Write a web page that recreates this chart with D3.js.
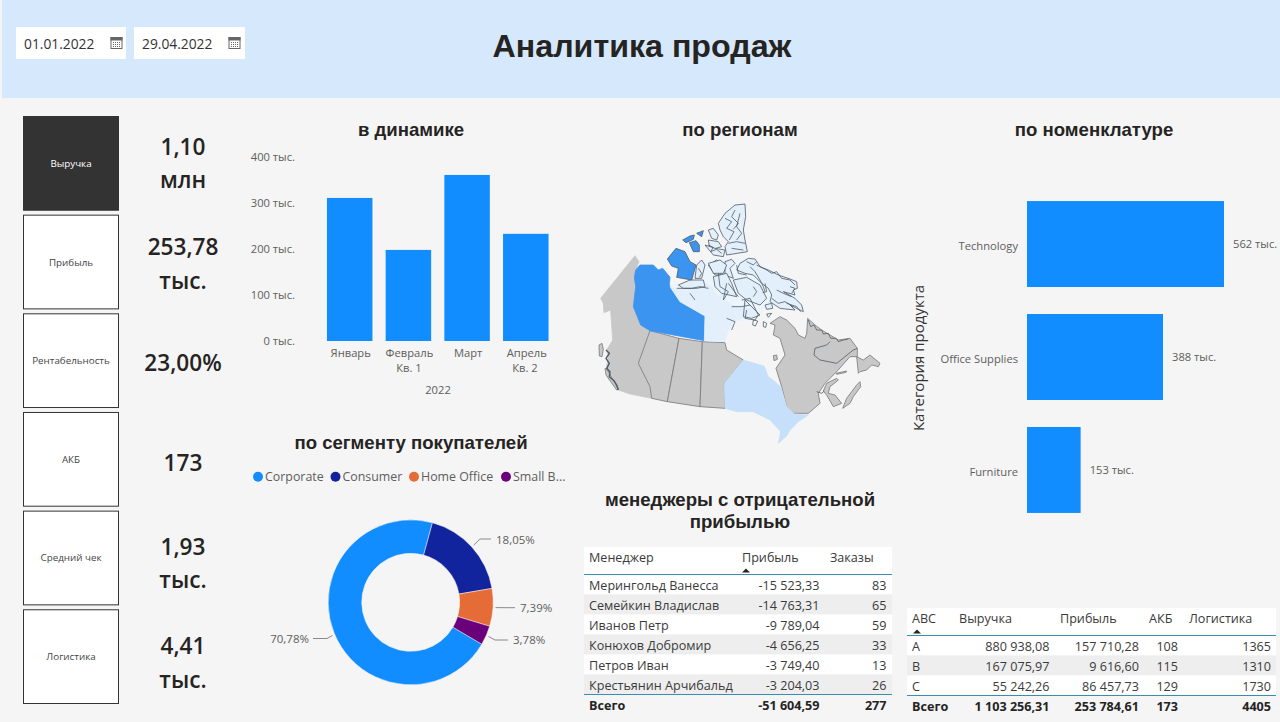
<!DOCTYPE html>
<html>
<head>
<meta charset="utf-8">
<script src="https://cdn.jsdelivr.net/npm/d3@7"></script>
<style>
html, body { margin: 0; padding: 0; background: #f5f5f5; overflow: hidden; }
text { font-family: "Open Sans", "Noto Sans", sans-serif; }
.title { font-family: "Liberation Sans", Arial, sans-serif; font-weight: bold; fill: #252423; font-size: 18.6px; text-anchor: middle; }
.axis text { font-size: 11.2px; fill: #605e5c; }
.axis .domain { display: none; }
.tbl { font-size: 12.6px; fill: #3a3a3a; }
</style>
</head>
<body>
<svg id="page" width="1280" height="722"></svg>
<script>
// ---- data
const dates = ['01.01.2022', '29.04.2022'];

const kpiNames = ['Выручка', 'Прибыль', 'Рентабельность', 'АКБ', 'Средний чек', 'Логистика'];
const kpiValues = [['1,10', 'млн'], ['253,78', 'тыс.'], ['23,00%'], ['173'], ['1,93', 'тыс.'], ['4,41', 'тыс.']];
const kpiNudge = [-1, 1, 1, 3, 4.5, 5.5];

const months = ['Январь', 'Февраль', 'Март', 'Апрель'];
const monthSales = [311, 198, 361, 233];
const salesTicks = [0, 100, 200, 300, 400];

const products = ['Technology', 'Office Supplies', 'Furniture'];
const productSales = [562, 388, 153];

const segmentLegend = ['Corporate', 'Consumer', 'Home Office', 'Small B...'];
const segmentShare = [70.78, 18.05, 7.39, 3.78];
const segmentLabels = ['70,78%', '18,05%', '7,39%', '3,78%'];
const segmentColors = ['#118DFF', '#12239E', '#E66C37', '#6B007B'];

const managerHead = ['Менеджер', 'Прибыль', 'Заказы'];
const managers = ['Мерингольд Ванесса', 'Семейкин Владислав', 'Иванов Петр', 'Конюхов Добромир', 'Петров Иван', 'Крестьянин Арчибальд'];
const managerProfit = ['-15 523,33', '-14 763,31', '-9 789,04', '-4 656,25', '-3 749,40', '-3 204,03'];
const managerOrders = ['83', '65', '59', '33', '13', '26'];
const managerTotal = ['Всего', '-51 604,59', '277'];

const abcHead = ['ABC', 'Выручка', 'Прибыль', 'АКБ', 'Логистика'];
const abcRows = [
  ['A', '880 938,08', '157 710,28', '108', '1365'],
  ['B', '167 075,97', '9 616,60', '115', '1310'],
  ['C', '55 242,26', '86 457,73', '129', '1730']
];
const abcTotal = ['Всего', '1 103 256,31', '253 784,61', '173', '4405'];

// map outlines, in the map's own 900x780 units
const yukon = [[32,325],[135,197],[147,215],[137,240],[133,262],[137,290],[130,350],[152,405],[62,360],[40,340]];
const nwt = [[137,240],[150,225],[190,225],[205,240],[218,235],[240,262],[238,285],[270,335],[345,378],[343,452],[180,422],[152,405],[130,350],[137,290],[133,262]];
const bc = [[40,340],[152,405],[180,422],[145,520],[180,590],[185,625],[120,612],[85,600],[75,575],[60,555],[50,530],[55,500],[50,480],[68,450],[62,360],[42,368]];
const alberta = [[180,422],[267,445],[232,635],[185,625],[180,590],[145,520]];
const sask = [[267,445],[337,455],[330,650],[232,635]];
const manitoba = [[337,455],[405,458],[410,480],[460,510],[403,580],[405,655],[330,650]];
const ontario = [[460,510],[522,528],[535,560],[555,575],[573,592],[590,650],[612,672],[655,675],[625,695],[600,720],[590,738],[565,760],[572,725],[540,690],[490,665],[440,665],[405,655],[403,580]];
const quebec = [[540,400],[570,380],[590,390],[615,415],[625,435],[645,445],[650,430],[653,385],[675,405],[695,420],[720,435],[745,450],[780,445],[802,475],[802,500],[780,500],[740,545],[705,580],[685,610],[690,640],[655,670],[605,670],[590,650],[575,590],[558,535],[585,495],[570,445],[550,435],[555,405]];
const newfoundland = [[805,550],[800,500],[820,510],[840,495],[870,520],[865,530],[845,525],[830,540],[810,545]];
const novaScotia = [[758,655],[770,625],[800,585],[810,575],[812,590],[790,620],[780,640]];
const brunswick = [[700,603],[710,580],[740,565],[745,570],[720,590],[715,610],[735,615],[755,640],[730,650],[710,615]];
const pei = [[738,550],[770,543],[768,547],[740,553]];
const vancouver = [[45,535],[52,540],[75,580],[85,598],[80,600],[62,575],[48,555]];
const haida = [[27,465],[36,460],[40,478],[36,500],[28,498]];
const akimiski = [[550,497],[560,495],[562,508],[552,512]];

const arcticWash = [[240,285],[320,270],[335,215],[380,205],[440,205],[490,205],[540,240],[620,275],[640,370],[600,350],[525,350],[510,375],[470,395],[430,395],[405,455],[343,452],[345,378],[270,335]];
const blueIslands = [
  [[232,207],[258,175],[285,185],[300,215],[318,225],[305,270],[260,262],[265,235],[245,228]],
  [[278,150],[300,138],[313,135],[310,148],[288,158]],
  [[298,158],[318,152],[328,165],[328,185],[310,185]],
  [[320,130],[340,122],[335,140]]
];
const nunavutMain = [[240,290],[262,298],[290,293],[315,297],[335,285],[350,280],[365,292],[385,320],[395,305],[415,340],[440,350],[455,345],[470,350],[460,385],[430,395],[412,430],[405,455],[343,452],[345,378],[270,335]];
const lightIslands = [
  [[385,100],[405,70],[435,45],[465,42],[467,80],[460,120],[465,150],[472,185],[410,195],[405,170],[415,155],[400,140],[390,120]],
  [[450,220],[475,205],[495,207],[510,230],[535,240],[565,255],[600,267],[620,275],[622,295],[610,300],[615,315],[580,305],[615,325],[635,345],[640,365],[600,345],[615,360],[570,355],[540,335],[545,315],[535,295],[515,280],[500,265],[490,255],[465,250],[440,240]],
  [[355,120],[370,115],[385,135],[380,150],[365,145]],
  [[355,150],[385,155],[395,170],[360,180]],
  [[345,165],[375,175],[405,180],[400,200],[370,195]],
  [[320,225],[335,210],[345,225],[335,265],[315,265]],
  [[355,225],[380,210],[400,230],[390,255],[375,255]],
  [[405,215],[425,208],[435,220],[420,235],[430,265],[405,255]],
  [[355,220],[390,210],[410,225],[400,250],[370,250]],
  [[265,285],[300,270],[340,270],[345,290],[320,295],[280,295]],
  [[370,260],[410,250],[425,280],[440,320],[395,310],[375,290]],
  [[430,270],[470,262],[510,285],[530,325],[510,345],[470,330],[445,310]],
  [[465,330],[480,345],[510,375],[485,385],[460,380]],
  [[525,345],[545,340],[548,355],[530,358]]
];
const isletRings = [
  [[490,390],[503,393],[496,408],[488,405]],
  [[520,395],[530,400],[527,412],[520,410]],
  [[530,372],[545,370],[535,382]]
];
// fjords and channels, the dark squiggles of the arctic coast
const squiggles = [
  [[405,85],[425,95],[410,115],[432,125],[418,150]],
  [[435,60],[425,80],[445,100],[430,118]],
  [[450,70],[440,110],[455,130],[440,150]],
  [[415,160],[440,155],[465,160]],
  [[425,175],[460,180]],
  [[355,165],[370,172],[362,185],[380,178],[395,190]],
  [[325,235],[335,250],[328,262]],
  [[260,295],[305,295],[330,290],[355,295]],
  [[300,310],[315,330]],
  [[385,250],[390,290],[415,305],[400,330],[410,280]],
  [[415,280],[445,320]],
  [[425,350],[455,350],[480,345]],
  [[410,385],[435,395],[425,420]],
  [[455,330],[480,325],[505,375],[495,390],[465,385],[470,360]],
  [[440,225],[445,250],[470,255]],
  [[500,225],[530,240],[545,250],[560,245],[575,265],[600,270],[615,285]],
  [[480,230],[495,245],[510,270],[520,290],[525,305]],
  [[545,325],[565,340],[585,335],[610,350]],
  [[470,215],[490,225],[500,215]],
  [[560,300],[580,310],[605,320]],
  [[490,290],[500,305],[490,320]],
  [[525,280],[530,305],[518,308]],
  [[600,290],[615,295],[605,310]],
  [[590,340],[620,350],[632,365]]
];
const labradorLine = [[802,475],[790,480],[740,520],[715,515],[690,510],[672,495],[675,475],[710,465],[720,455]];
const labradorCoast = [[655,390],[662,410],[672,405],[680,420],[695,420],[700,432],[715,430],[722,445],[738,445],[745,455],[760,450],[775,447]];
const gaspeLine = [[680,605],[695,610],[703,603]];
const bcCoast = [[48,480],[58,490],[48,505],[58,520],[50,535],[60,545],[58,560],[72,572],[80,585],[85,600]];

// ---- page
const svg = d3.select('#page');
const fmtK = d => d + ' тыс.';

svg.append('rect').attr('x', 2).attr('y', 0).attr('width', 1278).attr('height', 98).attr('fill', '#d6e9fc');

svg.append('text').text('Аналитика продаж')
  .attr('x', 642).attr('y', 57)
  .style('font-family', '"Liberation Sans", Arial, sans-serif').style('font-weight', 'bold')
  .style('font-size', '32.2px').style('text-anchor', 'middle').attr('fill', '#252423');

// date boxes
dates.forEach((d, i) => {
  const g = svg.append('g').attr('transform', 'translate(' + (16 + i * 118) + ',27)');
  g.append('rect').attr('width', i ? 111 : 110).attr('height', 32).attr('fill', '#fff');
  g.append('text').text(d).attr('x', 8).attr('y', 21.5).style('font-size', '13.8px').attr('fill', '#333');
  const ic = g.append('g').attr('transform', 'translate(94.5,10)').attr('fill', 'none').attr('stroke', '#666');
  ic.append('rect').attr('x', 0.5).attr('y', 0.5).attr('width', 11).attr('height', 11);
  ic.append('rect').attr('x', 0.5).attr('y', 0.5).attr('width', 11).attr('height', 2.5).attr('fill', '#666');
  ic.append('path').attr('d', 'M2.5,5.5H9.5M2.5,7.5H9.5M2.5,9.5H9.5').attr('stroke-dasharray', '1 1');
});

// KPI buttons
const btnY = d3.scaleBand().domain(kpiNames).range([116, 704]).paddingInner(0.04).paddingOuter(0);
kpiNames.forEach((name, i) => {
  const y = btnY(name), h = btnY.bandwidth();
  svg.append('rect').attr('x', 23.5).attr('y', y + 0.5).attr('width', 95).attr('height', h - 1)
    .attr('fill', i === 0 ? '#333' : '#fff').attr('stroke', '#333');
  svg.append('text').text(name).attr('x', 71).attr('y', y + h / 2 + 3.5)
    .style('font-size', '9.8px').style('text-anchor', 'middle').attr('fill', i === 0 ? '#fff' : '#444');
  const lines = kpiValues[i];
  const cy = y + h / 2 + 1 + kpiNudge[i];
  lines.forEach((l, j) => {
    svg.append('text').text(l).attr('x', 183)
      .attr('y', cy + 8 + (lines.length === 2 ? (j - 0.5) * 33.5 : 0))
      .style('font-size', '22.6px').style('font-weight', 600).style('text-anchor', 'middle').attr('fill', '#252423');
  });
});

// titles
[['в динамике', 411, 136], ['по регионам', 740, 136], ['по номенклатуре', 1094, 136],
 ['по сегменту покупателей', 411, 449], ['менеджеры с отрицательной', 740, 506], ['прибылью', 740, 528]]
  .forEach(t => svg.append('text').attr('class', 'title').text(t[0]).attr('x', t[1]).attr('y', t[2]));

// monthly bars
const x = d3.scaleBand().domain(months).range([320.5, 555]).paddingInner(0.225).paddingOuter(0.11);
const y = d3.scaleLinear().domain([0, 400]).range([341, 157]);
svg.append('g').attr('class', 'axis').attr('transform', 'translate(295,0)')
  .call(d3.axisLeft(y).tickValues(salesTicks).tickSize(0).tickPadding(0).tickFormat(fmtK));
svg.selectAll('.bar').data(monthSales).enter().append('rect').attr('class', 'bar')
  .attr('x', (d, i) => x(months[i])).attr('width', x.bandwidth())
  .attr('y', d => y(d)).attr('height', d => y(0) - y(d)).attr('fill', '#118DFF');
svg.append('g').attr('class', 'axis').attr('transform', 'translate(1,346)')
  .call(d3.axisBottom(x).tickSize(0).tickPadding(3));
[['Кв. 1', 409, 372], ['Кв. 2', 525, 372], ['2022', 438, 394]].forEach(t => {
  svg.append('text').text(t[0]).attr('x', t[1]).attr('y', t[2])
    .style('font-size', '11.2px').style('text-anchor', 'middle').attr('fill', '#605e5c');
});

// product bars
const px = d3.scaleLinear().domain([0, 562]).range([1027, 1224]);
const py = d3.scaleBand().domain(products).range([187.5, 526.5]).paddingInner(0.239).paddingOuter(0.12);
svg.selectAll('.pbar').data(productSales).enter().append('rect').attr('class', 'pbar')
  .attr('x', px(0)).attr('y', (d, i) => py(products[i])).attr('height', py.bandwidth())
  .attr('width', d => px(d) - px(0)).attr('fill', '#118DFF');
svg.append('g').attr('class', 'axis').attr('transform', 'translate(1018,2)')
  .call(d3.axisLeft(py).tickSize(0).tickPadding(0));
svg.selectAll('.plabel').data(productSales).enter().append('text').attr('class', 'plabel')
  .text(fmtK).attr('x', d => px(d) + 9).attr('y', (d, i) => py(products[i]) + py.bandwidth() / 2 + 4)
  .style('font-size', '11.2px').attr('fill', '#605e5c');
svg.append('text').text('Категория продукта')
  .attr('transform', 'translate(923.5,358) rotate(-90)')
  .style('font-size', '15px').style('text-anchor', 'middle').attr('fill', '#333');

// donut
const cx = 410.7, cy = 602.3;
const rad = d => d * Math.PI / 180;
const pie = d3.pie().sort(null).startAngle(rad(120.5)).endAngle(rad(480.5));
const arc = d3.arc().innerRadius(49).outerRadius(82.5);
const slices = pie(segmentShare);
const donut = svg.append('g').attr('transform', 'translate(' + cx + ',' + cy + ')');
donut.selectAll('path').data(slices).enter().append('path')
  .attr('d', arc).attr('fill', (d, i) => segmentColors[i]).attr('stroke', '#f5f5f5').attr('stroke-width', 0.5);

// leader lines and labels: [label x, label y, anchor, line end x, line y, elbow distance]
const labelPos = [[309, 643, 'end', 313, 638.5, -14], [496, 544, 'start', 491, 539, 11], [520, 612, 'start', 515, 607.7, 10], [513, 644, 'start', 508, 640, 13]];
const outer = d3.arc().innerRadius(85).outerRadius(85);
slices.forEach((s, i) => {
  const a = i === 0 ? { startAngle: rad(247), endAngle: rad(247) } : s;
  const p = outer.centroid(a);
  const lp = labelPos[i];
  svg.append('path')
    .attr('d', d3.line()([[p[0] + cx, p[1] + cy], [lp[3] - lp[5], lp[4]], [lp[3], lp[4]]]))
    .attr('fill', 'none').attr('stroke', '#8a8a8a');
  svg.append('text').text(segmentLabels[i]).attr('x', lp[0]).attr('y', lp[1])
    .style('font-size', '11.5px').style('text-anchor', lp[2]).attr('fill', '#605e5c');
});

// legend
let lx = 258;
segmentLegend.forEach((s, i) => {
  svg.append('circle').attr('cx', lx).attr('cy', 476.7).attr('r', 5).attr('fill', segmentColors[i]);
  svg.append('text').text(s).attr('x', lx + 7).attr('y', 481.3)
    .style('font-size', '12.4px').attr('fill', '#605e5c');
  lx += [77.5, 78.5, 92, 0][i];
});

// map
const defs = svg.append('defs');
defs.append('filter').attr('id', 'soft').append('feGaussianBlur').attr('stdDeviation', 0.3);
const mx = d3.scaleLinear().domain([0, 900]).range([590, 890]);
const my = d3.scaleLinear().domain([0, 780]).range([190, 450]);
const outline = d3.line().x(d => mx(d[0])).y(d => my(d[1])).curve(d3.curveLinearClosed);
const openLine = d3.line().x(d => mx(d[0])).y(d => my(d[1]));
const mapG = svg.append('g').attr('stroke', '#4f5a65').attr('stroke-width', 0.8).attr('stroke-linejoin', 'round').attr('filter', 'url(#soft)');
const shape = (pts, fill, stroke) => mapG.append('path').attr('d', outline(pts)).attr('fill', fill).attr('stroke', stroke || null);
const squiggle = (pts, w) => mapG.append('path').attr('d', openLine(pts)).attr('fill', 'none').attr('stroke-width', w || 0.8);
shape(arcticWash, '#edf5fc', '#edf5fc');
[yukon, bc].forEach(p => shape(p, '#c8c8c8', '#c8c8c8'));
[alberta, sask, manitoba].forEach(p => shape(p, '#c8c8c8', '#777'));
[quebec, newfoundland, novaScotia, brunswick, pei, vancouver, haida, akimiski].forEach(p => shape(p, '#c8c8c8', '#777'));
shape(ontario, '#c6e0fb', '#c6e0fb');
shape(nwt, '#3b94f0', '#3b94f0');
shape(nunavutMain, '#e3f0fc', '#e3f0fc');
lightIslands.forEach(p => shape(p, '#e3f0fc'));
blueIslands.forEach(p => shape(p, '#3b94f0'));
isletRings.forEach(p => shape(p, '#f5f8fb'));
squiggles.forEach(p => squiggle(p));
[labradorLine, labradorCoast, gaspeLine].forEach(p => squiggle(p, 0.8));
squiggle(bcCoast, 1.4);

// tables
function table(cfg) {
  const g = svg.append('g');
  const w = cfg.x1 - cfg.x0;
  const yHead = d3.scaleLinear().domain([0, 1]).range([cfg.top, cfg.rule]);
  g.append('rect').attr('x', cfg.x0).attr('y', yHead(0)).attr('width', w).attr('height', yHead(1) - yHead(0)).attr('fill', '#fff');
  const rowY = d3.scaleBand().domain(d3.range(cfg.rows.length)).range([cfg.rule, cfg.rule + cfg.rows.length * 20]);
  cfg.rows.forEach((r, i) => {
    g.append('rect').attr('x', cfg.x0).attr('y', rowY(i)).attr('width', w).attr('height', 20)
      .attr('fill', i % 2 ? '#eeeeee' : '#fff');
    r.forEach((c, j) => g.append('text').attr('class', 'tbl').text(c)
      .attr('x', j === 0 ? cfg.left[0] : cfg.right[j]).attr('y', rowY(i) + 15)
      .style('text-anchor', j === 0 ? 'start' : 'end'));
  });
  const last = cfg.rule + cfg.rows.length * 20;
  g.append('path').attr('d', 'M' + cfg.x0 + ',' + cfg.rule + 'H' + cfg.x1 + 'M' + cfg.x0 + ',' + last + 'H' + cfg.x1)
    .attr('stroke', '#3b8db0').attr('fill', 'none');
  cfg.head.forEach((h, j) => g.append('text').attr('class', 'tbl').text(h)
    .attr('x', cfg.left[j]).attr('y', cfg.top + 15));
  cfg.total.forEach((c, j) => g.append('text').attr('class', 'tbl').text(c)
    .attr('x', j === 0 ? cfg.left[0] : cfg.right[j]).attr('y', last + 15.5)
    .style('font-weight', 700).style('fill', '#252423')
    .style('text-anchor', j === 0 ? 'start' : 'end'));
  // sort arrow
  const ax = cfg.arrow;
  g.append('path').attr('d', d3.line()([[ax - 4, cfg.rule - 2], [ax, cfg.rule - 6], [ax + 4, cfg.rule - 2]])).attr('fill', '#252423');
}
table({
  x0: 584, x1: 892, top: 547, rule: 574.5, head: managerHead, left: [589, 742, 830], right: [0, 819.5, 886.5],
  rows: managers.map((m, i) => [m, managerProfit[i], managerOrders[i]]), total: managerTotal, arrow: 746
});
table({
  x0: 907, x1: 1276, top: 608, rule: 635.5, head: abcHead, left: [912, 959, 1060, 1149, 1189], right: [0, 1049.5, 1139, 1178, 1271],
  rows: abcRows, total: abcTotal, arrow: 917
});
</script>
</body>
</html>
